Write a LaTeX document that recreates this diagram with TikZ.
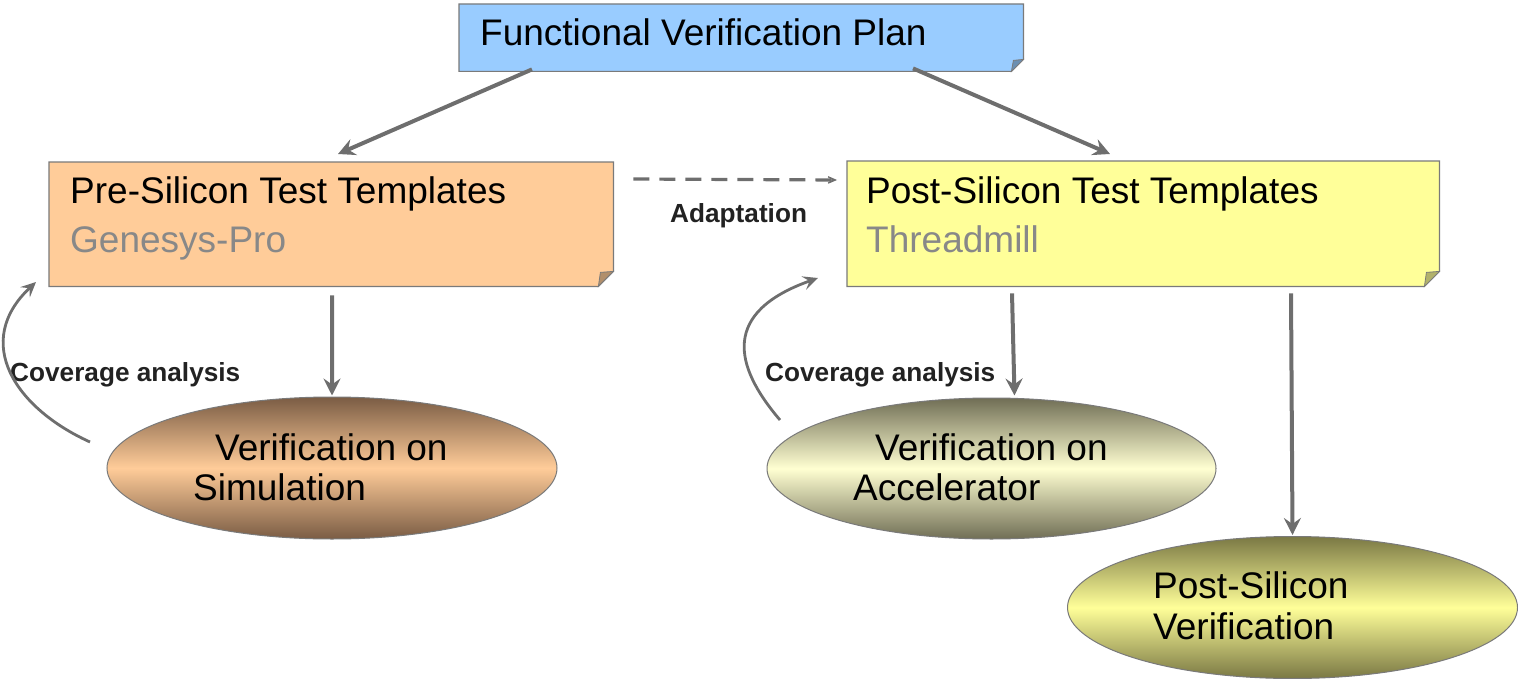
\documentclass[tikz,border=0pt]{standalone}
\usepackage{fontspec}
\setmainfont{Liberation Sans}
\usetikzlibrary{shapes.geometric,arrows.meta}
\definecolor{cBlue}{HTML}{99CCFF}
\definecolor{cOrange}{HTML}{FFCC99}
\definecolor{cYellow}{HTML}{FFFF99}
\definecolor{cEdge}{HTML}{7A7A7A}
\definecolor{cArrow}{HTML}{6E6E6E}
\definecolor{cSub}{HTML}{888888}
\definecolor{cLabel}{HTML}{222222}
\definecolor{brownDark}{HTML}{7A5C44}
\definecolor{accDark}{HTML}{706E55}
\definecolor{accLight}{HTML}{FFFFD2}
\definecolor{psDark}{HTML}{7A7844}
\newcommand{\bigfont}{\fontsize{37bp}{44bp}\selectfont}
\newcommand{\lblfont}{\fontsize{26.2bp}{31bp}\selectfont\bfseries}
% folded box outline: name, colour, fold size
\newcommand{\foldbox}[3]{%
  \fill[#2] (#1.north west) -- (#1.north east) -- ([yshift=#3]#1.south east)
     -- ([xshift=-#3]#1.south east) -- (#1.south west) -- cycle;
  \draw[cEdge, line width=1.2bp] (#1.north west) -- (#1.north east) -- ([yshift=#3]#1.south east)
     -- ([xshift=-#3]#1.south east) -- (#1.south west) -- cycle;
  \filldraw[fill=#2!70!black, draw=cEdge, line width=0.8bp] ([yshift=#3]#1.south east)
     -- ([xshift=-#3]#1.south east) .. controls ([xshift=-#3+1bp, yshift=#3*0.5]#1.south east) .. ([xshift=-#3+2bp, yshift=#3-1bp]#1.south east) -- cycle;
}
\tikzset{
  boxnode/.style={rectangle, inner sep=0pt, anchor=north west},
  bigtext/.style={anchor=base west, inner sep=0pt, font=\bigfont, text=black},
  subtext/.style={anchor=base west, inner sep=0pt, font=\bigfont, text=cSub},
  lbl/.style={anchor=base west, inner sep=0pt, font=\lblfont, text=cLabel},
  oval/.style={ellipse, draw=cEdge, line width=1bp, inner sep=0pt, minimum width=450bp, minimum height=142bp},
  ell/.style={anchor=base west, inner sep=0pt, font=\bigfont, text=black},
  thick arrow/.style={draw=cArrow, line width=4bp, -{Stealth[length=17bp, width=17bp, inset=6bp]}},
  curve arrow/.style={draw=cArrow, line width=2.8bp, -{Stealth[length=15bp, width=14bp, inset=6bp]}},
  dash arrow/.style={draw=cArrow, line width=3.2bp, dash pattern=on 16bp off 10bp, -{Stealth[length=16bp, width=14bp, inset=11bp]}},
}
\begin{document}
\begin{tikzpicture}[x=1bp, y=-1bp]
\useasboundingbox (0,0) rectangle (1518,679);

% boxes
\node[boxnode, minimum width=564bp, minimum height=67bp] (plan) at (459,4) {};
\foldbox{plan}{cBlue}{12bp}
\node[bigtext] (plantxt) at (480,46) {Functional Verification Plan};

\node[boxnode, minimum width=564bp, minimum height=124bp] (pre) at (49,162) {};
\foldbox{pre}{cOrange}{15bp}
\node[bigtext] (pretxt) at (70,203) {Pre-Silicon Test Templates};
\node[subtext] (presub) at (70,252) {Genesys-Pro};

\node[boxnode, minimum width=592bp, minimum height=125bp] (post) at (847,161) {};
\foldbox{post}{cYellow}{15bp}
\node[bigtext] (posttxt) at (866,203) {Post-Silicon Test Templates};
\node[subtext] (postsub) at (866,252) {Threadmill};

% ellipses
\node[oval, top color=brownDark, bottom color=brownDark, middle color=cOrange] (sim) at (332,468) {};
\node[ell] (sim1) at (215,460) {Verification on};
\node[ell] (sim2) at (193,500) {Simulation};

\node[oval, minimum width=449bp, minimum height=141bp, top color=accDark, bottom color=accDark, middle color=accLight] (acc) at (991.5,468.5) {};
\node[ell] (acc1) at (875,460) {Verification on};
\node[ell] (acc2) at (853,500) {Accelerator};

\node[oval, top color=psDark, bottom color=psDark, middle color=cYellow] (psv) at (1292.5,607.5) {};
\node[ell] (psv1) at (1153,598) {Post-Silicon};
\node[ell] (psv2) at (1153,639) {Verification};

% labels
\node[lbl] (cov1) at (10,381) {Coverage analysis};
\node[lbl] (cov2) at (765,381) {Coverage analysis};
\node[lbl] (adapt) at (670,222) {Adaptation};

% connectors
\draw[thick arrow] ([xshift=73bp, yshift=2bp]plan.south west) -- ([xshift=289bp, yshift=8bp]pre.north west);
\draw[thick arrow] ([xshift=454bp, yshift=3bp]plan.south west) -- ([xshift=263bp, yshift=7bp]post.north west);
\draw[thick arrow] ([xshift=283bp, yshift=-9bp]pre.south west) -- ([yshift=1bp]sim.north);
\draw[thick arrow] ([xshift=165bp, yshift=-7bp]post.south west) -- ([xshift=23bp, yshift=2bp]acc.north);
\draw[thick arrow] ([xshift=444bp, yshift=-7bp]post.south west) -- ([yshift=1bp]psv.north);
\draw[dash arrow] ([xshift=20bp, yshift=-17bp]pre.north east) -- ([xshift=-10bp, yshift=-19bp]post.north west);

\coordinate (c1s) at (90,442);
\coordinate (c1e) at (36,282);
\draw[curve arrow] (c1s) .. controls (15,408) and (-28,342) .. (c1e);
\coordinate (c2s) at (780,420);
\coordinate (c2e) at (818,278);
\draw[curve arrow] (c2s) .. controls (733,365) and (722,312) .. (c2e);
\end{tikzpicture}
\end{document}
